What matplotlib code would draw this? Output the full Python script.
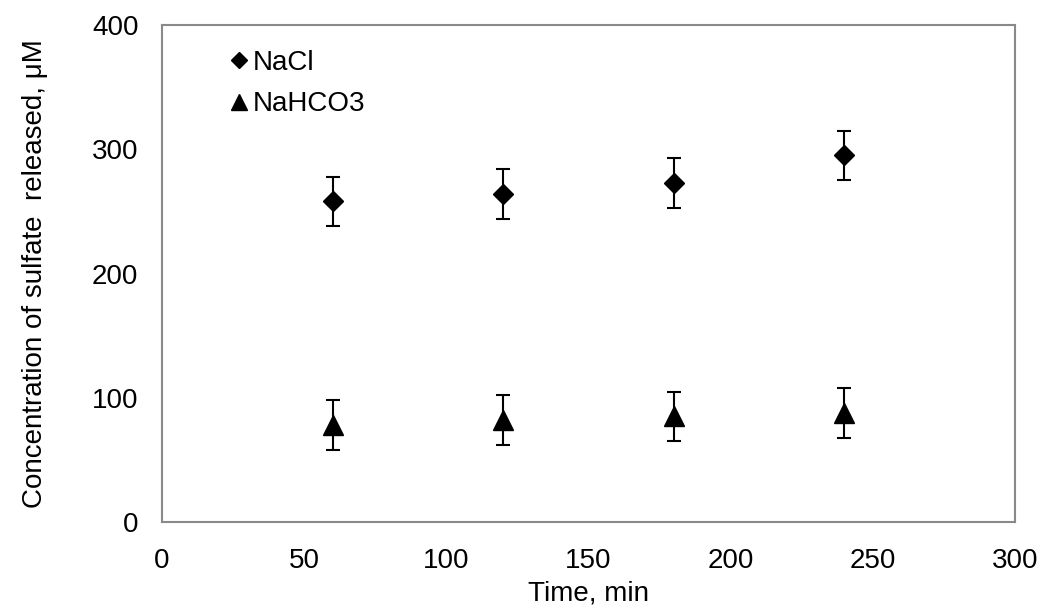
import numpy as np
import matplotlib.pyplot as plt

plt.rcParams['font.family'] = ['Liberation Sans', 'DejaVu Sans']

# data
time_min = [60, 120, 180, 240]
nacl = [258, 264, 273, 295]
nacl_err = [20, 20, 20, 20]
nahco3 = [78, 82, 85, 88]
nahco3_err = [20, 20, 20, 20]

x_ticks = [0, 50, 100, 150, 200, 250, 300]
y_ticks = [0, 100, 200, 300, 400]

fig = plt.figure(figsize=(10.43, 6.14), dpi=100)
ax = fig.add_axes([162 / 1043, 1 - 522 / 614, (1015 - 162) / 1043, (522 - 25) / 614])

ax.errorbar(time_min, nacl, yerr=nacl_err, fmt='D', color='black', markersize=10,
            ecolor='black', elinewidth=1.5, capsize=5, capthick=1.5, label='NaCl')
ax.errorbar(time_min, nahco3, yerr=nahco3_err, fmt='^', color='black', markersize=14,
            ecolor='black', elinewidth=1.5, capsize=5, capthick=1.5, label='NaHCO3')

ax.set_xlim(0, 300)
ax.set_ylim(0, 400)
ax.set_xticks(x_ticks)
ax.set_yticks(y_ticks)
ax.tick_params(length=0, labelsize=20)
ax.tick_params(axis='x', pad=19)
ax.tick_params(axis='y', pad=17)
for s in ax.spines.values():
    s.set_color('#898989')
    s.set_linewidth(1.5)

ax.set_xlabel('Time, min', fontsize=20)
ax.set_ylabel('Concentration of sulfate  released, \u03bcM', fontsize=20)
ax.xaxis.set_label_coords(0.5, -0.118)
ax.yaxis.set_label_coords(-0.134, 0.5)

# legend entries without the error bar glyphs
handles, labels = ax.get_legend_handles_labels()
handles = [h[0] for h in handles]
ax.legend(handles, labels, loc='upper left', bbox_to_anchor=(0.045, 1.0), frameon=False,
          fontsize=20, handletextpad=0.0, handlelength=1.0, labelspacing=0.55,
          markerscale=0.8)

fig.savefig('out.png', dpi=100)
